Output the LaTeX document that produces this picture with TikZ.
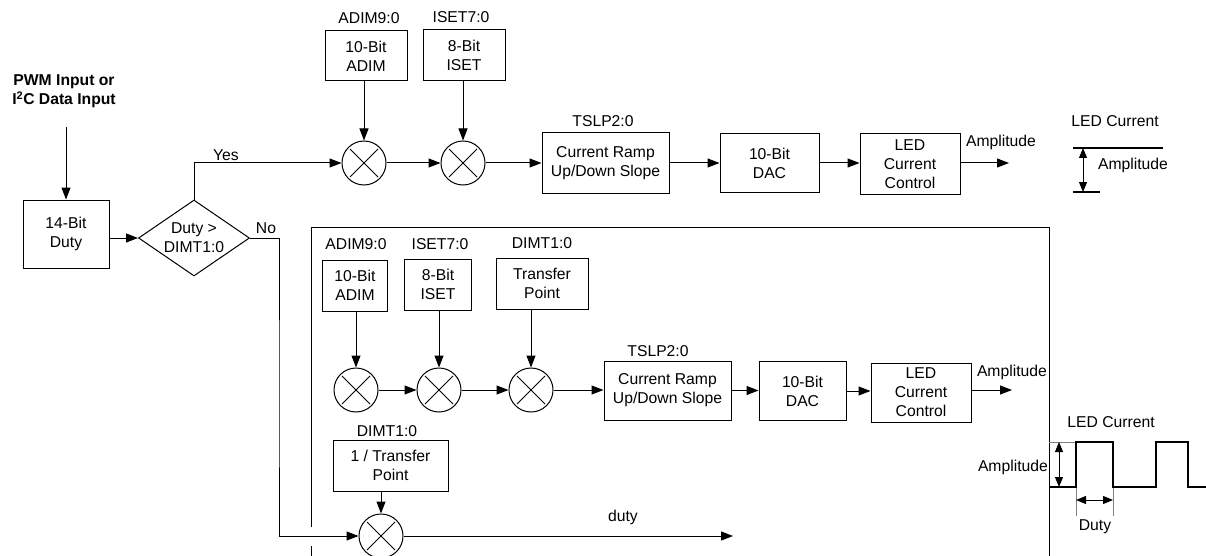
\documentclass[tikz,border=0pt]{standalone}
\usepackage{fontspec}
\setmainfont{Liberation Sans}
\usetikzlibrary{arrows.meta,shapes.geometric,calc}
\definecolor{extgray}{RGB}{128,128,128}
\begin{document}
\begin{tikzpicture}[x=1pt,y=-1pt,
  every node/.style={font=\fontsize{15.7}{19}\selectfont, inner sep=0pt},
  box/.style={draw, line width=1pt, rectangle, align=center},
  dia/.style={draw, line width=1pt, diamond, align=center, shape aspect=1.46, minimum width=111, minimum height=76},
  mult/.style={draw, line width=1pt, circle, minimum size=44,
    path picture={
      \draw[line width=0.8pt] ([shift={(-14pt,-14pt)}]path picture bounding box.center) -- ([shift={(14pt,14pt)}]path picture bounding box.center);
      \draw[line width=0.8pt] ([shift={(-14pt,14pt)}]path picture bounding box.center) -- ([shift={(14pt,-14pt)}]path picture bounding box.center);
    }},
  arr/.style={line width=1pt, -{Triangle[length=12pt,width=9pt]}},
  darr/.style={line width=1pt, {Triangle[length=10pt,width=8pt]}-{Triangle[length=10pt,width=8pt]}},
  wave/.style={line width=2pt},
  ext/.style={line width=1pt, draw=extgray},
]
\useasboundingbox (0,0) rectangle (1206,556);

% ---------- top path ----------
\node[align=center, font=\fontsize{15.7}{19}\selectfont\bfseries] (pwm) at (64,91.5) {PWM Input or\\I\textsuperscript{2}C Data Input};
\coordinate (pwmtail) at (66,127);
\node[box, minimum width=86, minimum height=68] (duty) at (66,234) {14-Bit\\Duty};
\draw[arr] (pwmtail) -- (duty.north);
\node[dia] (dec) at (194,238) {Duty >\\DIMT1:0};
\draw[arr] (duty.east |- dec.west) -- (dec.west);

\node[mult] (m1) at (364,163) {};
\node (yes) at (226,155) {Yes};
\draw[arr] (dec.north) |- (m1.west);
\node[box, minimum width=82, minimum height=50] (adim1) at (366,56) {10-Bit\\ADIM};
\node (adiml1) at (369,18) {ADIM9:0};
\draw[arr] (m1 |- adim1.south) -- (m1.north);

\node[mult] (m2) at (463,163) {};
\node[box, minimum width=82, minimum height=51] (iset1) at (464,55.5) {8-Bit\\ISET};
\node (isetl1) at (461,17) {ISET7:0};
\draw[arr] (m2 |- iset1.south) -- (m2.north);
\draw[arr] (m1) -- (m2);

\node[box, minimum width=127, minimum height=60] (ramp1) at (605.5,163) {Current Ramp\\Up/Down Slope};
\node (tslp1) at (603,121) {TSLP2:0};
\draw[arr] (m2) -- (ramp1);
\node[box, minimum width=99, minimum height=59] (dac1) at (769.5,163) {10-Bit\\DAC};
\draw[arr] (ramp1) -- (dac1);
\node[box, minimum width=100, minimum height=61] (led1) at (910,164) {LED\\Current\\Control};
\draw[arr] (dac1.east) -- (dac1.east -| led1.west);
\coordinate (amp1) at (1009,163);
\draw[arr] (led1.east |- amp1) -- (amp1);
\node (ampl1) at (1001,142) {Amplitude};

% top right legend
\node (ledc1) at (1115,121) {LED Current};
\coordinate (t1a) at (1073,148); \coordinate (t1b) at (1163,148);
\coordinate (b1a) at (1073,192); \coordinate (b1b) at (1100,192);
\draw[line width=1.5pt] (t1a) -- (t1b);
\draw[line width=1.5pt] (b1a) -- (b1b);
\coordinate (aa1) at (1083,148); \coordinate (ab1) at (1083,192);
\draw[darr] (aa1) -- (ab1);
\node (ampr1) at (1133,165) {Amplitude};

% ---------- lower frame ----------
\coordinate (bbtl) at (311,227); \coordinate (bbtr) at (1049,227);
\coordinate (bbbr) at (1049,562);
\coordinate (bbg1) at (311,527); \coordinate (bbg2) at (311,546);
\coordinate (bbbl) at (311,562);
\draw[line width=1pt] (bbg1) -- (bbtl) -- (bbtr) -- (bbbr);
\draw[line width=1pt] (bbg2) -- (bbbl);

% ---------- lower path ----------
\node (adiml2) at (356,244) {ADIM9:0};
\node[box, minimum width=65, minimum height=51] (adim2) at (355,285.5) {10-Bit\\ADIM};
\node (isetl2) at (440,244) {ISET7:0};
\node[box, minimum width=67, minimum height=51] (iset2) at (438,284.5) {8-Bit\\ISET};
\node (dimtl2) at (542,243) {DIMT1:0};
\node[box, minimum width=92, minimum height=51] (tp) at (542,283.5) {Transfer\\Point};

\node[mult] (m5) at (356,390) {};
\node[mult] (m6) at (439,390) {};
\node[mult] (m7) at (531,390) {};
\draw[arr] (m5 |- adim2.south) -- (m5.north);
\draw[arr] (m6 |- iset2.south) -- (m6.north);
\draw[arr] (m7 |- tp.south) -- (m7.north);
\draw[arr] (m5) -- (m6);
\draw[arr] (m6) -- (m7);

\node[box, minimum width=127, minimum height=59] (ramp2) at (667.5,390.5) {Current Ramp\\Up/Down Slope};
\node (tslp2) at (658,351) {TSLP2:0};
\draw[arr] (m7.east) -- (m7.east -| ramp2.west);
\node[box, minimum width=87, minimum height=59] (dac2) at (802.5,391) {10-Bit\\DAC};
\draw[arr] (ramp2.east) -- (ramp2.east -| dac2.west);
\node[box, minimum width=100, minimum height=59] (led2) at (921,392.5) {LED\\Current\\Control};
\draw[arr] (dac2.east) -- (dac2.east -| led2.west);
\coordinate (amp2) at (1012,390);
\draw[arr] (led2.east |- amp2) -- (amp2);
\node[anchor=east] (ampl2) at (1047,372) {Amplitude};

% duty branch
\node (dimtl3) at (387,431) {DIMT1:0};
\node[box, minimum width=115, minimum height=51] (invtp) at (390.5,465.5) {1 / Transfer\\Point};
\node[mult] (m4) at (381,536) {};
\draw[arr] (m4 |- invtp.south) -- (m4.north);
\coordinate (dutyend) at (733,536);
\draw[arr] (m4) -- (dutyend);
\node (dutyl) at (623,517) {duty};

% No branch
\node (no) at (266,228) {No};
\coordinate (noturn) at (279,400);
\draw[arr] (dec.east) -| (noturn) |- (m4.west);

% ---------- lower right waveform ----------
\node (ledc2) at (1111,422) {LED Current};
\coordinate (w0) at (1049,487);
\coordinate (w1) at (1076,487); \coordinate (w2) at (1076,442);
\coordinate (w3) at (1113,442); \coordinate (w4) at (1113,487);
\coordinate (w5) at (1156,487); \coordinate (w6) at (1156,442);
\coordinate (w7) at (1188,442); \coordinate (w8) at (1188,487);
\coordinate (w9) at (1210,487);
\coordinate (hi0) at (1049,442);
\draw[ext] (hi0) -- (w2);
\coordinate (e1) at (1076,516); \coordinate (e2) at (1113,516);
\draw[ext] (w1) -- (e1);
\draw[ext] (w4) -- (e2);
\draw[wave] (w0) -- (w1) -- (w2) -- (w3) -- (w4) -- (w5) -- (w6) -- (w7) -- (w8) -- (w9);
\coordinate (aa2) at (1059,442); \coordinate (ab2) at (1059,487);
\draw[darr] (aa2) -- (ab2);
\node[anchor=east] (ampl3) at (1048,467) {Amplitude};
\coordinate (da) at (1076,500); \coordinate (db) at (1113,500);
\draw[darr] (da) -- (db);
\node (dutyw) at (1095,527) {Duty};
\end{tikzpicture}
\end{document}
